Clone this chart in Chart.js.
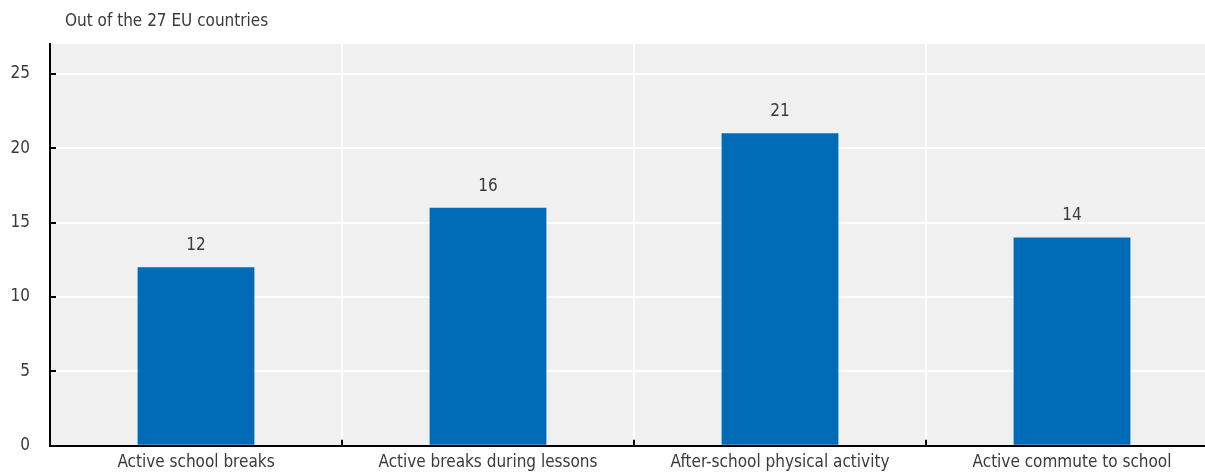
<!DOCTYPE html>
<html>
<head>
<meta charset="utf-8">
<script src="https://cdn.jsdelivr.net/npm/chart.js@4"></script>
<style>
  html, body { margin: 0; padding: 0; background: #fff; overflow: hidden; }
  #wrap { width: 1205px; height: 476px; overflow: hidden; position: relative; }
  #myChart { display: block; }
</style>
</head>
<body>
<div id="wrap"><canvas id="myChart" width="1218" height="476"></canvas></div>
<script>
// data
var categories = ["Active school breaks", "Active breaks during lessons", "After-school physical activity", "Active commute to school"];
var countries = [12, 16, 21, 14];
var yTicks = [0, 5, 10, 15, 20, 25];
var subtitleText = "Out of the 27 EU countries";

var FONT = "'DejaVu Sans Condensed', 'Liberation Sans Narrow', sans-serif";
var TEXT = '#3a3a3a';

// gray plot background
var plotBg = {
    id: 'plotBg',
    beforeDraw: function(chart){
        var a = chart.chartArea, c = chart.ctx;
        c.save();
        c.fillStyle = '#f0f0f0';
        c.fillRect(a.left, a.top, a.right - a.left, a.bottom - a.top);
        c.restore();
    }
};

// small inward tick marks, value labels and the top-left note
var extras = {
    id: 'extras',
    afterDraw: function(chart){
        var c = chart.ctx, a = chart.chartArea;
        var xs = chart.scales.x, ys = chart.scales.y;
        c.save();
        c.strokeStyle = '#000';
        c.lineWidth = 2;
        // y ticks
        yTicks.forEach(function(v){
            var y = Math.round(ys.getPixelForValue(v));
            c.beginPath();
            c.moveTo(a.left, y);
            c.lineTo(a.left + 6, y);
            c.stroke();
        });
        // x ticks between categories
        for (var i = 0; i < categories.length - 1; i++) {
            var x = Math.round((xs.getPixelForValue(i) + xs.getPixelForValue(i + 1)) / 2);
            c.beginPath();
            c.moveTo(x, a.bottom);
            c.lineTo(x, a.bottom - 6);
            c.stroke();
        }
        // value labels
        c.fillStyle = TEXT;
        c.font = '17px ' + FONT;
        c.textAlign = 'center';
        c.textBaseline = 'bottom';
        var meta = chart.getDatasetMeta(0);
        meta.data.forEach(function(bar, i){
            c.fillText(String(countries[i]), bar.x, bar.y - 13);
        });
        // note
        c.textAlign = 'left';
        c.textBaseline = 'middle';
        c.fillText(subtitleText, 65, 22);
        c.restore();
    }
};

var ctx = document.getElementById('myChart').getContext('2d');
var chart = new Chart(ctx, {
    type: 'bar',
    data: {
        labels: categories,
        datasets: [{
            label: subtitleText,
            data: countries,
            backgroundColor: '#006BB6',
            barPercentage: 0.4,
            categoryPercentage: 1.0
        }]
    },
    options: {
        responsive: false,
        animation: false,
        layout: { autoPadding: false, padding: { top: 44, left: 0, right: 0, bottom: 0 } },
        plugins: {
            legend: { display: false },
            tooltip: { enabled: false }
        },
        scales: {
            x: {
                offset: true,
                grid: { offset: true, color: '#ffffff', lineWidth: 2, drawTicks: false },
                border: { display: true, color: '#000', width: 2 },
                ticks: { color: TEXT, font: { family: FONT, size: 17 }, padding: 7, maxRotation: 0, autoSkip: false },
                afterFit: function(s){ s.height = 27; }
            },
            y: {
                min: 0,
                max: 27,
                grid: { color: '#ffffff', lineWidth: 2, drawTicks: false },
                border: { display: true, color: '#000', width: 2 },
                ticks: { color: TEXT, font: { family: FONT, size: 17 }, padding: 20, stepSize: 5 },
                afterBuildTicks: function(s){
                    s.ticks = yTicks.map(function(v){ return { value: v }; });
                },
                afterFit: function(s){ s.width = 50; }
            }
        }
    },
    plugins: [plotBg, extras]
});
</script>
</body>
</html>
